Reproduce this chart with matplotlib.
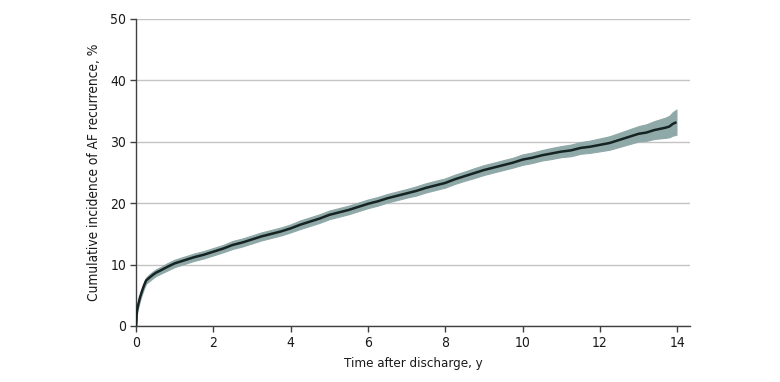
import matplotlib
matplotlib.use("Agg")
import matplotlib.pyplot as plt

# Data
time_y = [0.0, 0.02, 0.05, 0.1, 0.15, 0.2, 0.26, 0.35, 0.45, 0.52, 0.65, 0.8, 1.0, 1.25,
          1.5, 1.75, 2.0, 2.25, 2.5, 2.75, 3.0, 3.25, 3.5, 3.75, 4.0, 4.25, 4.5, 4.75,
          5.0, 5.25, 5.5, 5.75, 6.0, 6.25, 6.5, 6.75, 7.0, 7.25, 7.5, 7.75, 8.0, 8.25,
          8.5, 8.75, 9.0, 9.25, 9.5, 9.75, 10.0, 10.25, 10.5, 10.75, 11.0, 11.25, 11.5,
          11.75, 12.0, 12.25, 12.5, 12.75, 13.0, 13.2, 13.4, 13.55, 13.7, 13.8, 13.88, 13.98]
incidence = [0.0, 2.3, 3.3, 4.6, 5.6, 6.5, 7.4, 7.9, 8.4, 8.7, 9.1, 9.6, 10.2, 10.7,
             11.2, 11.6, 12.1, 12.6, 13.2, 13.6, 14.1, 14.6, 15.0, 15.4, 15.9, 16.5, 17.0, 17.5,
             18.1, 18.5, 18.9, 19.4, 19.9, 20.3, 20.8, 21.2, 21.6, 22.0, 22.5, 22.9, 23.3, 23.9,
             24.4, 24.9, 25.4, 25.8, 26.2, 26.6, 27.1, 27.4, 27.8, 28.1, 28.4, 28.6, 29.0,
             29.2, 29.5, 29.8, 30.3, 30.8, 31.3, 31.5, 31.9, 32.1, 32.3, 32.5, 32.9, 33.2]
ci_halfwidth = [0.0, 0.45, 0.5, 0.5, 0.5, 0.5, 0.5, 0.55, 0.55, 0.55, 0.55, 0.6, 0.6, 0.6,
                0.6, 0.6, 0.6, 0.6, 0.65, 0.65, 0.65, 0.65, 0.65, 0.65, 0.65, 0.7, 0.7, 0.7,
                0.7, 0.7, 0.7, 0.7, 0.7, 0.7, 0.7, 0.7, 0.7, 0.75, 0.75, 0.75, 0.75, 0.75,
                0.75, 0.8, 0.8, 0.8, 0.8, 0.8, 0.85, 0.85, 0.85, 0.9, 0.9, 0.95, 0.95,
                1.0, 1.05, 1.1, 1.15, 1.2, 1.25, 1.35, 1.45, 1.55, 1.65, 1.75, 1.9, 2.05]
ci_lower = [v - h for v, h in zip(incidence, ci_halfwidth)]
ci_upper = [v + h for v, h in zip(incidence, ci_halfwidth)]

x_ticks = [0, 2, 4, 6, 8, 10, 12, 14]
y_ticks = [0, 10, 20, 30, 40, 50]
x_label = "Time after discharge, y"
y_label = "Cumulative incidence of AF recurrence, %"

plt.rcParams['font.family'] = ['DejaVu Sans']
plt.rcParams['font.stretch'] = 'condensed'

fig = plt.figure(figsize=(7.8, 3.82), dpi=100)
ax = fig.add_axes([0.1744, 0.1466, 0.8846 - 0.1744, 0.9503 - 0.1466])

ax.fill_between(time_y, ci_lower, ci_upper, color='#8fa9a8', linewidth=0.8,
                edgecolor='#8fa9a8', zorder=2)
ax.plot(time_y, incidence, color='#152322', linewidth=1.8, zorder=3,
        solid_joinstyle='round', solid_capstyle='butt')

ax.set_xlim(0, 14.33)
ax.set_ylim(0, 50)
ax.set_xticks(x_ticks)
ax.set_yticks(y_ticks)
ax.yaxis.grid(True, color='#c4c4c4', linewidth=1.0, zorder=0)
ax.set_axisbelow(True)
for s in ['top', 'right']:
    ax.spines[s].set_visible(False)
for s in ['left', 'bottom']:
    ax.spines[s].set_color('#404040')
    ax.spines[s].set_linewidth(1.0)
ax.tick_params(axis='both', direction='out', length=4, width=1, color='#404040',
               labelsize=10, labelcolor='#1a1a1a', pad=3)
ax.set_xlabel(x_label, fontsize=9.5, color='#1a1a1a', labelpad=5)
ax.set_ylabel(y_label, fontsize=9.8, color='#1a1a1a', labelpad=7)

fig.savefig('out.png', dpi=100)
